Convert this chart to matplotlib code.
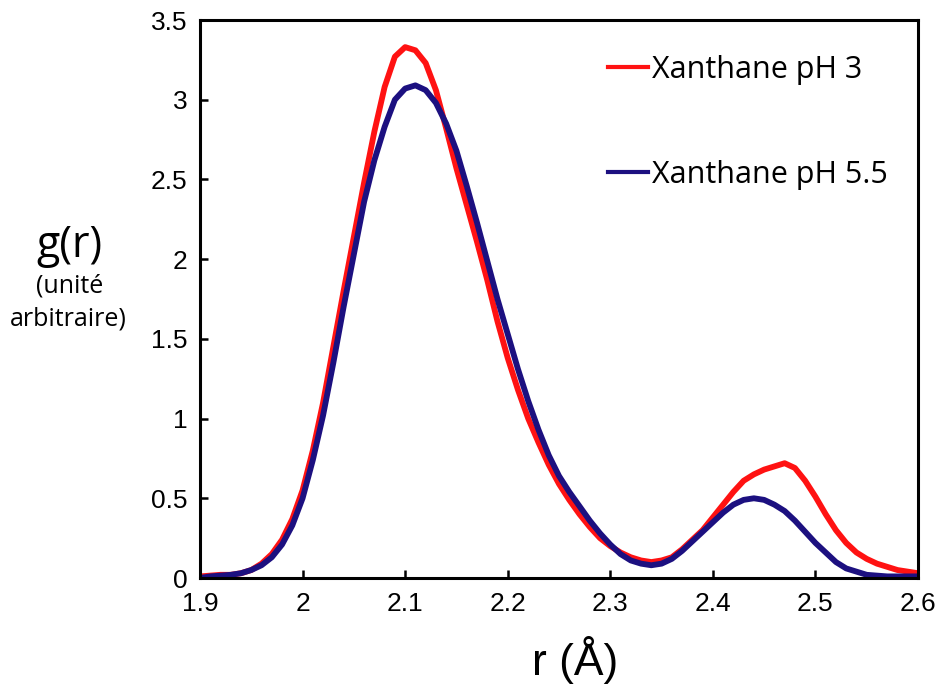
import matplotlib
matplotlib.use("Agg")
import matplotlib.pyplot as plt

r_vals = [1.90, 1.91, 1.92, 1.93, 1.94, 1.95, 1.96, 1.97, 1.98, 1.99,
          2.00, 2.01, 2.02, 2.03, 2.04, 2.05, 2.06, 2.07, 2.08, 2.09,
          2.10, 2.11, 2.12, 2.13, 2.14, 2.15, 2.16, 2.17, 2.18, 2.19,
          2.20, 2.21, 2.22, 2.23, 2.24, 2.25, 2.26, 2.27, 2.28, 2.29,
          2.30, 2.31, 2.32, 2.33, 2.34, 2.35, 2.36, 2.37, 2.38, 2.39,
          2.40, 2.41, 2.42, 2.43, 2.44, 2.45, 2.46, 2.47, 2.48, 2.49,
          2.50, 2.51, 2.52, 2.53, 2.54, 2.55, 2.56, 2.57, 2.58, 2.59,
          2.60]
g_ph3 = [0.01, 0.015, 0.02, 0.02, 0.03, 0.05, 0.09, 0.15, 0.24, 0.37,
         0.55, 0.80, 1.10, 1.45, 1.80, 2.14, 2.48, 2.80, 3.08, 3.27,
         3.33, 3.31, 3.23, 3.06, 2.82, 2.57, 2.34, 2.11, 1.87, 1.61,
         1.38, 1.18, 1.00, 0.85, 0.71, 0.59, 0.49, 0.40, 0.32, 0.25,
         0.20, 0.16, 0.13, 0.11, 0.10, 0.11, 0.13, 0.18, 0.24, 0.30,
         0.38, 0.46, 0.54, 0.61, 0.65, 0.68, 0.70, 0.72, 0.69, 0.61,
         0.51, 0.40, 0.30, 0.22, 0.16, 0.12, 0.09, 0.07, 0.05, 0.04,
         0.03]
g_ph55 = [0.00, 0.01, 0.015, 0.02, 0.03, 0.05, 0.08, 0.13, 0.21, 0.33,
          0.50, 0.74, 1.02, 1.35, 1.70, 2.03, 2.36, 2.62, 2.83, 3.00,
          3.07, 3.09, 3.06, 2.98, 2.85, 2.68, 2.46, 2.23, 1.99, 1.75,
          1.53, 1.31, 1.11, 0.93, 0.77, 0.64, 0.54, 0.45, 0.36, 0.28,
          0.21, 0.15, 0.11, 0.09, 0.08, 0.09, 0.12, 0.17, 0.23, 0.29,
          0.35, 0.41, 0.46, 0.49, 0.50, 0.49, 0.46, 0.42, 0.36, 0.29,
          0.22, 0.16, 0.10, 0.06, 0.04, 0.02, 0.015, 0.01, 0.01, 0.01,
          0.01]

labels = ["Xanthane pH 3", "Xanthane pH 5.5"]
x_ticks = [1.9, 2.0, 2.1, 2.2, 2.3, 2.4, 2.5, 2.6]
x_tick_labels = ["1.9", "2", "2.1", "2.2", "2.3", "2.4", "2.5", "2.6"]
y_ticks = [0, 0.5, 1, 1.5, 2, 2.5, 3, 3.5]
y_tick_labels = ["0", "0.5", "1", "1.5", "2", "2.5", "3", "3.5"]

W, H = 947, 685
fig = plt.figure(figsize=(W / 100, H / 100), dpi=100)
ax = fig.add_axes([200 / W, 1 - 578 / H, (918 - 200) / W, (578 - 20) / H])

red = "#ff1212"
navy = "#1c1080"
ax.plot(r_vals, g_ph3, color=red, lw=4.2, label=labels[0],
        solid_joinstyle="round")
ax.plot(r_vals, g_ph55, color=navy, lw=4.2, label=labels[1],
        solid_joinstyle="round")

ax.set_xlim(1.9, 2.6)
ax.set_ylim(0, 3.5)
ax.set_xticks(x_ticks)
ax.set_xticklabels(x_tick_labels)
ax.set_yticks(y_ticks)
ax.set_yticklabels(y_tick_labels)

for s in ax.spines.values():
    s.set_linewidth(2.2)
ax.tick_params(direction="in", length=6, width=1.8, top=False, right=False,
               labelsize=19)
ax.tick_params(axis="x", pad=10)
ax.tick_params(axis="y", pad=9)
for t in ax.get_xticklabels() + ax.get_yticklabels():
    t.set_fontfamily("Liberation Sans")

fig.text(575 / W, 1 - 675 / H, "r (Å)", fontsize=32, family="Liberation Sans",
         ha="center", va="baseline")

fig.text(69 / W, 1 - 257 / H, "g(r)", fontsize=31, family="Open Sans",
         ha="center", va="baseline")
fig.text(70 / W, 1 - 293 / H, "(unité", fontsize=18,
         family="Open Sans", ha="center", va="baseline")
fig.text(68 / W, 1 - 326 / H, "arbitraire)", fontsize=18,
         family="Open Sans", ha="center", va="baseline")

leg = ax.legend(loc="upper left", bbox_to_anchor=(608 / W, 1 - 55 / H),
                bbox_transform=fig.transFigure, frameon=False,
                prop={"family": "Open Sans", "size": 22},
                handlelength=1.3, handletextpad=0.15, labelspacing=2.45,
                borderpad=0, borderaxespad=0)
for ln in leg.get_lines():
    ln.set_linewidth(3.0)

fig.savefig("out.png", dpi=100)
